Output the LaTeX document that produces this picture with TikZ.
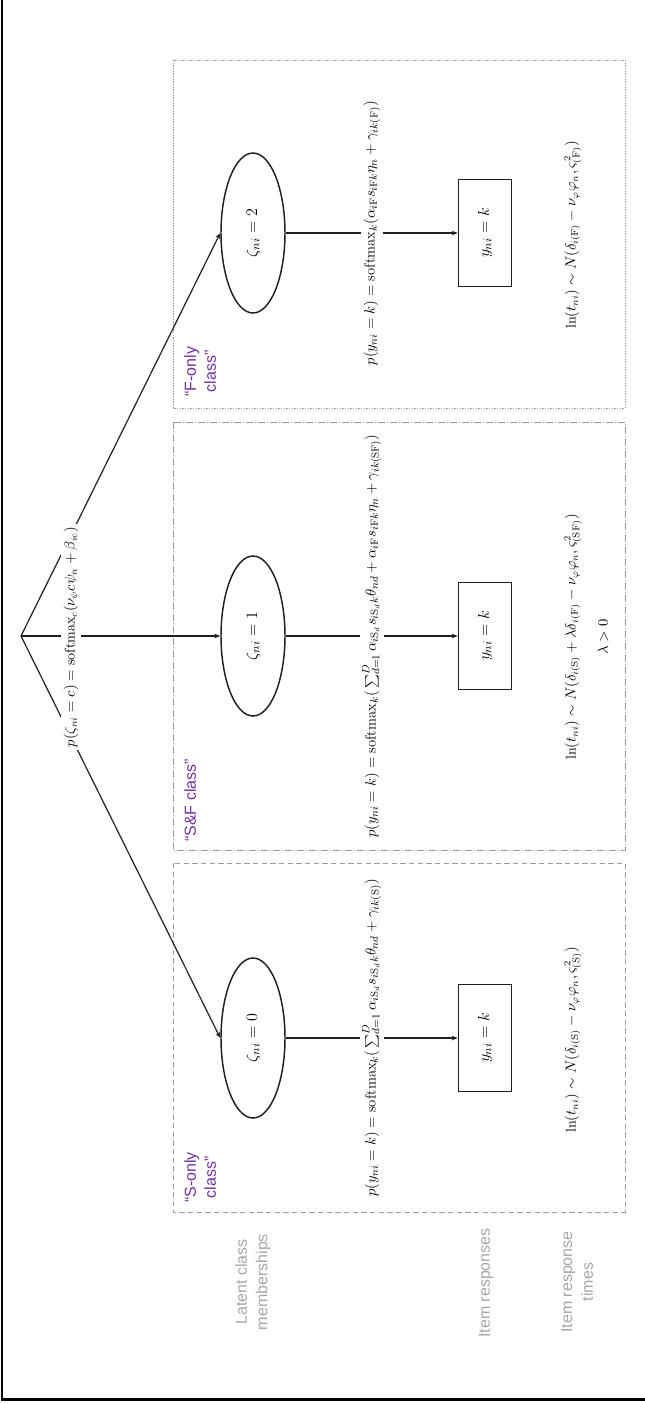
\documentclass[tikz,border=0pt]{standalone}
\usepackage{fontspec}
\setsansfont{Liberation Sans}
\usetikzlibrary{shapes.geometric, arrows.meta}
\definecolor{classpurple}{HTML}{7030A0}
\definecolor{rowgray}{HTML}{A6A6A6}
\definecolor{boxgray}{HTML}{9C9C9C}
\definecolor{ink}{HTML}{231F20}

\begin{document}
\begin{tikzpicture}[x=0.75pt, y=-0.75pt,
  latent/.style={draw=ink, ellipse, line width=1.1pt, inner sep=0pt,
    minimum width=48pt, minimum height=120pt, font=\fontsize{13}{15}\selectfont},
  observed/.style={draw=ink, rectangle, line width=1.2pt, inner sep=0pt,
    minimum width=39.75pt, minimum height=80.25pt, font=\fontsize{13}{15}\selectfont},
  arr/.style={draw=ink, line width=0.9pt, -{Stealth[length=4.5pt, width=3.5pt]}},
  formula/.style={rotate=90, fill=white, inner sep=2pt, font=\fontsize{11}{13}\selectfont},
  rootformula/.style={rotate=90, fill=white, inner sep=2pt, font=\fontsize{10.5}{12}\selectfont},
  formulaplain/.style={rotate=90, inner sep=1pt, font=\fontsize{10.5}{12}\selectfont},
  classlab/.style={rotate=90, anchor=north west, align=left, inner sep=0pt, text=classpurple,
    font=\sffamily\fontsize{12}{15}\selectfont},
  rowlab/.style={rotate=90, align=center, inner sep=0pt, text=rowgray,
    font=\sffamily\fontsize{12}{15.5}\selectfont},
  sbox/.style={draw=boxgray, line width=0.7pt, dash pattern=on 4pt off 2.5pt},
  sfbox/.style={draw=boxgray, line width=0.6pt, dash pattern=on 5pt off 1.5pt on 1pt off 1.5pt},
  fbox/.style={draw=boxgray, line width=0.6pt, dash pattern=on 1pt off 1pt},
]
\useasboundingbox (0,0) rectangle (644,1404);

% outer frame (left and bottom edges)
\draw[line width=2.2pt] (2,-2) -- (2,1399.5) -- (646,1399.5);

% class boxes
\draw[fbox]  (173,60)  rectangle (625,408);
\draw[sfbox] (173,422) rectangle (625,850);
\draw[sbox]  (173,863) rectangle (625,1212);

% class labels
\node[classlab] (lF)  at (184,397)  {``F-only\\\ class''};
\node[classlab] (lSF) at (184,842)  {``S\&F class''};
\node[classlab] (lS)  at (184,1203) {``S-only\\\ class''};

% row labels
\node[rowlab] (rowL) at (253,1282) {Latent class\\memberships};
\node[rowlab] (rowR) at (486,1283) {Item responses};
\node[rowlab] (rowT) at (577,1282) {Item response\\times};

% latent classes
\coordinate (apex) at (21,636);
\node[latent] (z2) at (253,233)  {\rotatebox{90}{$\zeta_{ni}=2$}};
\node[latent] (z1) at (253,636)  {\rotatebox{90}{$\zeta_{ni}=1$}};
\node[latent] (z0) at (253,1038) {\rotatebox{90}{$\zeta_{ni}=0$}};

% item responses
\node[observed] (r2) at (485,233)  {\rotatebox{90}{$y_{ni}=k$}};
\node[observed] (r1) at (485,636)  {\rotatebox{90}{$y_{ni}=k$}};
\node[observed] (r0) at (485,1038) {\rotatebox{90}{$y_{ni}=k$}};

% class membership arrows
\draw[arr] (apex) -- (z2.west);
\draw[arr] (apex) -- (z1.west);
\draw[arr] (apex) -- (z0.west);
\node[rootformula] (pz) at (71,637)
  {$p(\zeta_{ni}=c)=\mathrm{softmax}_c\big(\nu_\psi c\psi_n+\beta_{ic}\big)$};

% response arrows with their models
\draw[arr] (z2) -- node[formula] (pF)
  {$p(y_{ni}=k)=\mathrm{softmax}_k\big(\alpha_{i\mathrm{F}}s_{i\mathrm{F}k}\eta_n+\gamma_{ik(\mathrm{F})}\big)$} (r2);
\draw[arr] (z1) -- node[formula] (pSF)
  {$p(y_{ni}=k)=\mathrm{softmax}_k\big(\sum_{d=1}^{D}\alpha_{i\mathrm{S}_d}s_{i\mathrm{S}_dk}\theta_{nd}+\alpha_{i\mathrm{F}}s_{i\mathrm{F}k}\eta_n+\gamma_{ik(\mathrm{SF})}\big)$} (r1);
\draw[arr] (z0) -- node[formula] (pS)
  {$p(y_{ni}=k)=\mathrm{softmax}_k\big(\sum_{d=1}^{D}\alpha_{i\mathrm{S}_d}s_{i\mathrm{S}_dk}\theta_{nd}+\gamma_{ik(\mathrm{S})}\big)$} (r0);

% response time models
\node[formulaplain] (tF) at (573,235)
  {$\ln(t_{ni})\sim N\big(\delta_{i(\mathrm{F})}-\nu_\varphi\varphi_n,\varsigma^2_{(\mathrm{F})}\big)$};
\node[formulaplain] (tSF) at (573,637)
  {$\ln(t_{ni})\sim N\big(\delta_{i(\mathrm{S})}+\lambda\delta_{i(\mathrm{F})}-\nu_\varphi\varphi_n,\varsigma^2_{(\mathrm{SF})}\big)$};
\node[formulaplain] (lam) at (603,637) {$\lambda>0$};
\node[formulaplain] (tS) at (573,1040)
  {$\ln(t_{ni})\sim N\big(\delta_{i(\mathrm{S})}-\nu_\varphi\varphi_n,\varsigma^2_{(\mathrm{S})}\big)$};
\end{tikzpicture}
\end{document}
